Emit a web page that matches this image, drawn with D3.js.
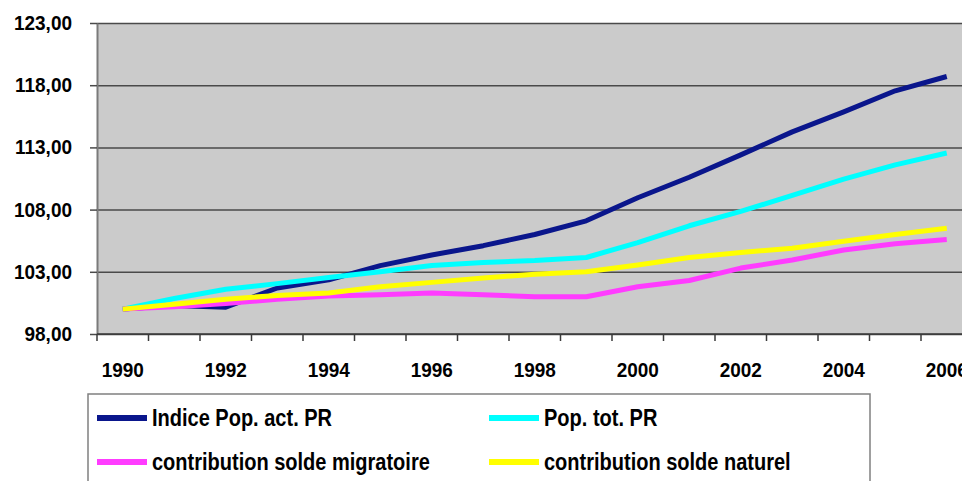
<!DOCTYPE html>
<html>
<head>
<meta charset="utf-8">
<script src="https://cdn.jsdelivr.net/npm/d3@7"></script>
<style>
    body { margin: 0; background: #fff; }
    svg { display: block; }
    text { font-family: "Liberation Sans", Arial, sans-serif; font-weight: bold; fill: #000; }
</style>
</head>
<body>
<div id="chart"></div>
<script>
// categories and tick labels
var years = [1990, 1991, 1992, 1993, 1994, 1995, 1996, 1997, 1998, 1999, 2000, 2001, 2002, 2003, 2004, 2005, 2006];
var tickYears = [1990, 1992, 1994, 1996, 1998, 2000, 2002, 2004, 2006];
var yTicks = [98, 103, 108, 113, 118, 123];

// series values (index 1990 = 100)
var popAct = [100.0, 100.3, 100.15, 101.7, 102.35, 103.5, 104.35, 105.1, 106.0, 107.1, 108.95, 110.6, 112.4, 114.25, 115.85, 117.55, 118.7];
var popTot = [100.0, 100.85, 101.6, 102.05, 102.55, 103.0, 103.5, 103.75, 103.9, 104.15, 105.35, 106.7, 107.85, 109.15, 110.45, 111.6, 112.55];
var soldeMigr = [100.0, 100.2, 100.45, 100.8, 101.05, 101.15, 101.3, 101.15, 101.0, 101.0, 101.8, 102.3, 103.3, 103.95, 104.75, 105.25, 105.6];
var soldeNat = [100.0, 100.4, 100.8, 101.1, 101.3, 101.8, 102.15, 102.5, 102.8, 103.0, 103.55, 104.15, 104.55, 104.9, 105.45, 106.0, 106.5];

var seriesNames = ["Indice Pop. act. PR", "Pop. tot. PR", "contribution solde migratoire", "contribution solde naturel"];
var seriesColors = ["#0a168c", "#00ffff", "#ff3cff", "#ffff00"];

var width = 962, height = 481;
var plot = { left: 97, top: 23, bottom: 334, band: 51.5 };
var plotRight = plot.left + years.length * plot.band;

var svg = d3.select("#chart")
    .append("svg")
    .attr("width", width)
    .attr("height", height);

var x = d3.scaleBand()
    .domain(years)
    .range([plot.left, plotRight]);

var y = d3.scaleLinear()
    .domain([98, 123])
    .range([plot.bottom, plot.top]);

var comma = d3.formatLocale({ decimal: ",", thousands: " ", grouping: [3], currency: ["", ""] }).format(".2f");

// plot background
svg.append("rect")
    .attr("x", plot.left)
    .attr("y", plot.top)
    .attr("width", plotRight - plot.left)
    .attr("height", plot.bottom - plot.top)
    .attr("fill", "#cbcbcb");

// horizontal gridlines
svg.append("g")
    .attr("transform", "translate(" + plot.left + ",0)")
    .call(d3.axisLeft(y)
        .tickValues(yTicks)
        .tickSize(-(plotRight - plot.left))
        .tickFormat(""))
    .call(function(g) { g.select(".domain").remove(); })
    .selectAll("line")
    .attr("stroke", "#4a4a4a")
    .attr("stroke-width", 1.5);

// Y axis with labels
var yAxis = svg.append("g")
    .attr("transform", "translate(" + plot.left + ",0)")
    .call(d3.axisLeft(y)
        .tickValues(yTicks)
        .tickSize(7)
        .tickSizeOuter(0)
        .tickFormat(comma));
yAxis.select(".domain").attr("stroke", "#7a7a7a").attr("stroke-width", 2);
yAxis.selectAll("line").attr("stroke", "#4a4a4a").attr("stroke-width", 1.5);
yAxis.selectAll("text")
    .attr("x", -26.3)
    .attr("transform", "scale(0.95,1)")
    .style("font-size", "20px");

// X axis line and tick marks at category boundaries
svg.append("line")
    .attr("x1", plot.left)
    .attr("x2", plotRight)
    .attr("y1", plot.bottom)
    .attr("y2", plot.bottom)
    .attr("stroke", "#3a3a3a")
    .attr("stroke-width", 1.5);

svg.append("g")
    .selectAll("line")
    .data(years)
    .enter()
    .append("line")
    .attr("x1", function(d) { return x(d); })
    .attr("x2", function(d) { return x(d); })
    .attr("y1", plot.bottom)
    .attr("y2", plot.bottom + 7)
    .attr("stroke", "#3a3a3a")
    .attr("stroke-width", 1.5);

// X labels (every other year)
var xAxis = svg.append("g")
    .attr("transform", "translate(0," + plot.bottom + ")")
    .call(d3.axisBottom(x)
        .tickValues(tickYears)
        .tickSize(0));
xAxis.select(".domain").remove();
xAxis.selectAll("text")
    .attr("y", 43)
    .attr("dy", 0)
    .attr("transform", "scale(0.95,1)")
    .style("font-size", "20px");

// lines
var series = [popAct, popTot, soldeMigr, soldeNat].map(function(values, i) {
    return { name: seriesNames[i], color: seriesColors[i], values: values };
});

var line = d3.line()
    .x(function(d, i) { return x(years[i]) + x.bandwidth() / 2; })
    .y(function(d) { return y(d); });

svg.append("g")
    .selectAll("path")
    .data(series)
    .enter()
    .append("path")
    .attr("d", function(d) { return line(d.values); })
    .attr("fill", "none")
    .attr("stroke", function(d) { return d.color; })
    .attr("stroke-width", 5)
    .attr("stroke-linejoin", "round");

// legend
svg.append("rect")
    .attr("x", 88)
    .attr("y", 394)
    .attr("width", 782)
    .attr("height", 120)
    .attr("fill", "#fff")
    .attr("stroke", "#808080")
    .attr("stroke-width", 1.5);

var legendCols = [97, 489], legendRows = [418, 462];

var item = svg.append("g")
    .selectAll("g")
    .data(series)
    .enter()
    .append("g")
    .attr("transform", function(d, i) {
        return "translate(" + legendCols[i % 2] + "," + legendRows[Math.floor(i / 2)] + ")";
    });

item.append("line")
    .attr("x1", 0)
    .attr("x2", 50)
    .attr("stroke", function(d) { return d.color; })
    .attr("stroke-width", 6);

item.append("text")
    .attr("x", 55 / 0.87)
    .attr("y", 7.5)
    .attr("transform", "scale(0.87,1)")
    .style("font-size", "23px")
    .text(function(d) { return d.name; });
</script>
</body>
</html>
